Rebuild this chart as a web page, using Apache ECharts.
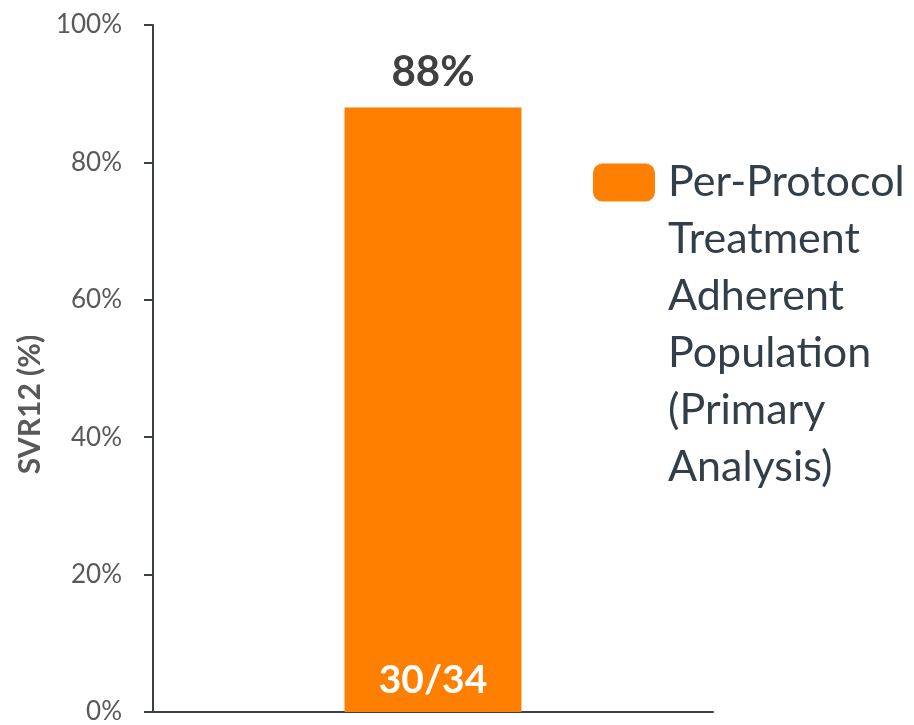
<!DOCTYPE html>
<html>
<head>
<meta charset="utf-8">
<script src="https://cdn.jsdelivr.net/npm/echarts@6/dist/echarts.min.js"></script>
<style>
  html, body { margin: 0; padding: 0; background: #fff; }
  #main { width: 914px; height: 725px; }
</style>
</head>
<body>
<div id="main"></div>
<script>
var categories = [''];
var seriesName = 'Per-Protocol Treatment Adherent Population (Primary Analysis)';
var legendLines = ['Per-Protocol', 'Treatment', 'Adherent', 'Population', '(Primary', 'Analysis)'];
var svrValues = [88];
var patientCounts = ['30/34'];
var yTicks = [0, 20, 40, 60, 80, 100];

var myChart = echarts.init(document.getElementById('main'));
var axisColor = '#3b4045';
var font = 'Lato, "Open Sans", sans-serif';

option = {
    animation: false,
    grid: {
        left: 153,
        right: 201,
        top: 25,
        bottom: 12
    },
    legend: {
        data: [seriesName],
        orient: 'vertical',
        left: 593,
        top: -131,
        padding: 0,
        itemWidth: 62,
        itemHeight: 38,
        icon: 'roundRect',
        formatter: function (name) {
            // blank lines above keep the first text line level with the icon
            return '\n\n\n\n\n' + legendLines.join('\n');
        },
        textStyle: {
            fontFamily: font,
            fontSize: 43,
            lineHeight: 57,
            color: '#333f48',
            padding: [0, 0, 0, 8]
        }
    },
    xAxis: {
        type: 'category',
        data: categories,
        axisLine: { lineStyle: { color: axisColor, width: 2 } },
        axisTick: { show: false },
        axisLabel: { show: false }
    },
    yAxis: {
        type: 'value',
        min: yTicks[0],
        max: yTicks[yTicks.length - 1],
        interval: 20,
        name: 'SVR12 (%)',
        nameLocation: 'middle',
        nameGap: 104,
        nameTextStyle: {
            fontFamily: font,
            fontSize: 30,
            fontWeight: 'bold',
            color: '#595959',
            padding: [0, 72, 0, 0]
        },
        axisLine: { show: true, lineStyle: { color: axisColor, width: 2 } },
        axisTick: { show: true, length: 9, lineStyle: { color: axisColor, width: 2 } },
        splitLine: { show: false },
        axisLabel: {
            formatter: '{value}%',
            margin: 31,
            fontFamily: font,
            fontSize: 26,
            color: '#595959'
        }
    },
    series: [{
        name: seriesName,
        type: 'bar',
        data: svrValues,
        barWidth: '31.6%',
        itemStyle: { color: '#ff7f00' },
        label: {
            show: true,
            position: 'top',
            distance: 14,
            formatter: '{c}%',
            fontFamily: font,
            fontSize: 42,
            fontWeight: 'bold',
            color: '#404040'
        }
    }, {
        name: 'counts',
        type: 'bar',
        data: svrValues,
        barWidth: '31.6%',
        barGap: '-100%',
        itemStyle: { color: 'rgba(0,0,0,0)' },
        silent: true,
        label: {
            show: true,
            position: 'insideBottom',
            distance: 12,
            formatter: function (p) { return patientCounts[p.dataIndex]; },
            fontFamily: font,
            fontSize: 39,
            fontWeight: 'bold',
            color: '#ffffff'
        }
    }]
};
myChart.setOption(option);
</script>
</body>
</html>
